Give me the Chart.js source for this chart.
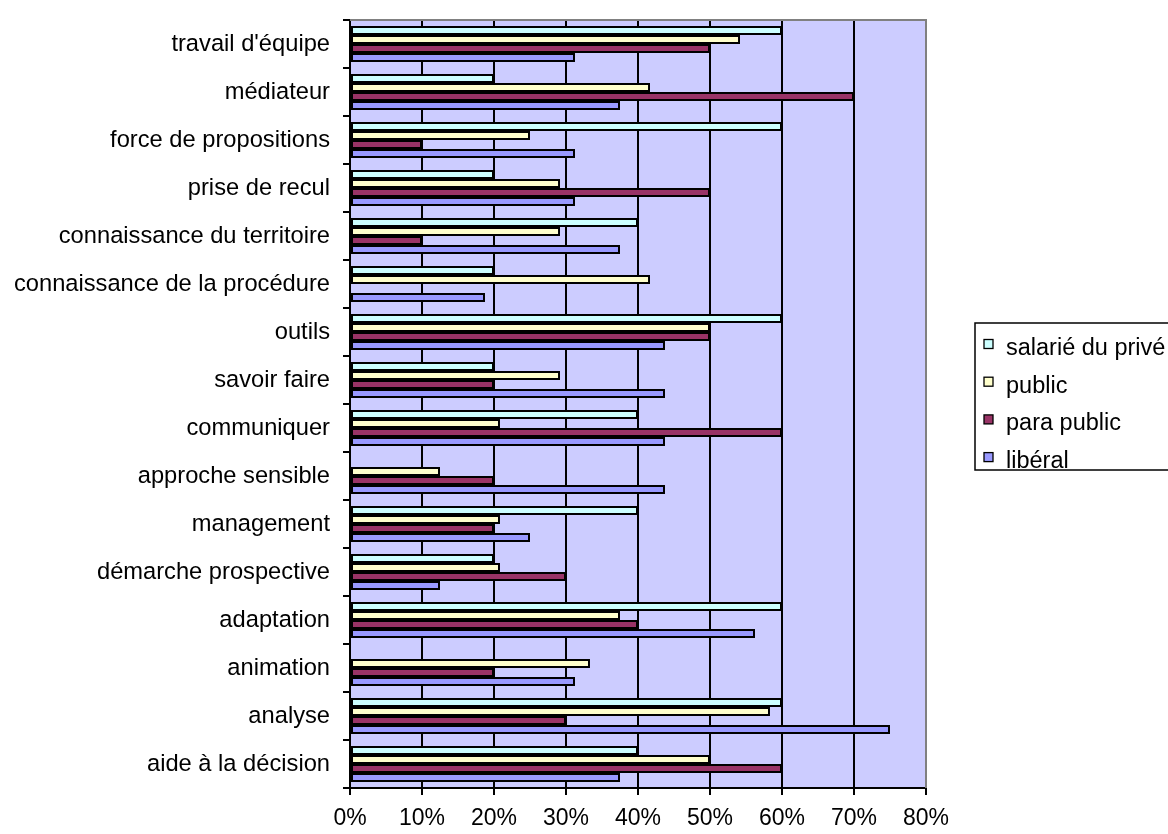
<!DOCTYPE html>
<html lang="fr">
<head>
<meta charset="UTF-8">
<title>Compétences par statut</title>
<script src="https://cdn.jsdelivr.net/npm/chart.js@4.4.0/dist/chart.umd.min.js"></script>
<style>
  html, body { margin: 0; padding: 0; background: #fff; }
  #wrap { width: 1168px; height: 834px; }
</style>
</head>
<body>
<div id="wrap"><canvas id="skillsChart" width="1168" height="834"></canvas></div>
<script>
// categories, top to bottom as shown
var categories = ["travail d'équipe", "médiateur", "force de propositions", "prise de recul",
    "connaissance du territoire", "connaissance de la procédure", "outils", "savoir faire",
    "communiquer", "approche sensible", "management", "démarche prospective",
    "adaptation", "animation", "analyse", "aide à la décision"];

var seriesNames = ["salarié du privé", "public", "para public", "libéral"];

// values in %
var salariePrive = [60, 20, 60, 20, 40, 20, 60, 20, 40, 0, 40, 20, 60, 0, 60, 40];
var publicVals   = [54.17, 41.67, 25, 29.17, 29.17, 41.67, 50, 29.17, 20.83, 12.5, 20.83, 20.83, 37.5, 33.33, 58.33, 50];
var paraPublic   = [50, 70, 10, 50, 10, 0, 50, 20, 60, 20, 20, 30, 40, 20, 30, 60];
var liberal      = [31.25, 37.5, 31.25, 31.25, 37.5, 18.75, 43.75, 43.75, 43.75, 43.75, 25, 12.5, 56.25, 31.25, 75, 37.5];

var xTicks = [0, 10, 20, 30, 40, 50, 60, 70, 80];

var colors = ['#CCFFFF', '#FFFFCC', '#993366', '#9999FF'];
var FONT = "'Liberation Sans', Arial, sans-serif";

// plot background + grey frame on top
var plotBg = {
    id: 'plotBg',
    beforeDraw: function(chart) {
        var a = chart.chartArea, c = chart.ctx;
        c.save();
        c.fillStyle = '#CCCCFF';
        c.fillRect(a.left, a.top, a.right - a.left, a.bottom - a.top);
        c.restore();
    },
    beforeDatasetsDraw: function(chart) {
        var a = chart.chartArea, c = chart.ctx;
        c.save();
        c.strokeStyle = '#808080';
        c.lineWidth = 2;
        c.beginPath();
        c.moveTo(a.left, a.top);
        c.lineTo(a.right, a.top);
        c.lineTo(a.right, a.bottom);
        c.stroke();
        c.restore();
    }
};

// boxed legend like the original
var boxLegend = {
    id: 'boxLegend',
    afterDraw: function(chart) {
        var c = chart.ctx;
        var x0 = 975, y0 = 323, w = 210, h = 147;
        c.save();
        c.fillStyle = '#fff';
        c.fillRect(x0, y0, w, h);
        c.strokeStyle = '#000';
        c.lineWidth = 1.5;
        c.strokeRect(x0, y0, w, h);
        c.font = '23.5px ' + FONT;
        c.textBaseline = 'alphabetic';
        chart.data.datasets.forEach(function(ds, i) {
            var base = 355 + i * 37.7;
            var cy = base - 11;
            c.fillStyle = ds.backgroundColor;
            c.fillRect(984, cy - 4.5, 9, 9);
            c.strokeStyle = '#000';
            c.lineWidth = 1.3;
            c.strokeRect(984, cy - 4.5, 9, 9);
            c.fillStyle = '#000';
            c.fillText(ds.label, 1006, base);
        });
        c.restore();
    }
};

var seriesData = [salariePrive, publicVals, paraPublic, liberal];

var ctx = document.getElementById('skillsChart').getContext('2d');
var skillsChart = new Chart(ctx, {
    type: 'bar',
    data: {
        labels: categories,
        datasets: seriesNames.map(function(name, i) {
            return {
                label: name,
                data: seriesData[i],
                backgroundColor: colors[i],
                borderColor: '#000',
                borderWidth: 2,
                borderSkipped: false,
                categoryPercentage: 0.75,
                barPercentage: 1.0
            };
        })
    },
    options: {
        indexAxis: 'y',
        responsive: false,
        animation: false,
        layout: { padding: { left: 0, top: 20, right: 242, bottom: 0 } },
        plugins: {
            legend: { display: false },
            tooltip: { enabled: false }
        },
        scales: {
            x: {
                type: 'linear',
                min: 0,
                max: 80,
                afterBuildTicks: function(scale) {
                    scale.ticks = xTicks.map(function(v) { return { value: v }; });
                },
                afterFit: function(scale) { scale.height = 46; },
                ticks: {
                    callback: function(v) { return v + '%'; },
                    color: '#000',
                    font: { family: FONT, size: 23 },
                    padding: 10,
                    maxRotation: 0
                },
                grid: {
                    color: function(c) { return c.tick && c.tick.value === 80 ? '#808080' : '#000'; },
                    lineWidth: 2,
                    tickLength: 7,
                    tickColor: '#000'
                },
                border: { display: true, color: '#000', width: 2 }
            },
            y: {
                type: 'category',
                afterFit: function(scale) {
                    scale.width = 350;
                    scale.paddingTop = 0;
                    scale.paddingBottom = 0;
                },
                ticks: {
                    color: '#000',
                    font: { family: FONT, size: 23.7 },
                    padding: 13
                },
                grid: {
                    drawOnChartArea: false,
                    color: '#000',
                    lineWidth: 2,
                    tickLength: 7
                },
                border: { display: true, color: '#000', width: 2 }
            }
        }
    },
    plugins: [plotBg, boxLegend]
});
</script>
</body>
</html>
